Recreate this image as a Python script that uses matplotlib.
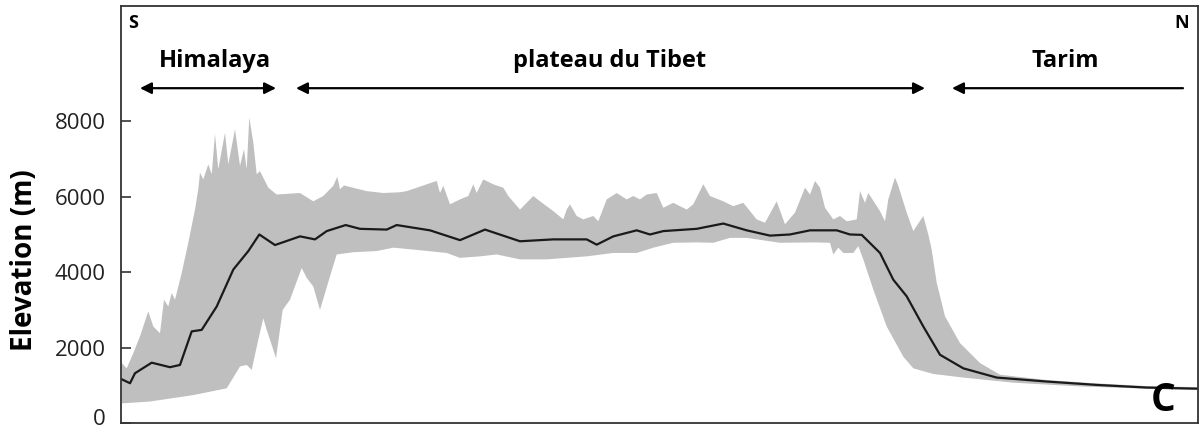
import numpy as np
import matplotlib
matplotlib.use("Agg")
import matplotlib.pyplot as plt
import matplotlib.transforms as mtransforms

plt.rcParams['font.family'] = ['Open Sans', 'DejaVu Sans']

# distance along the profile (S -> N, arbitrary units) and elevation (m)
mean_x = [0.7, 9, 14, 30.7, 49, 59, 70.7, 80.7, 95.7, 112.3, 127.3, 138.3, 154, 179,
          194, 205.7, 224.7, 239, 265.7, 275.7, 309, 339, 364, 399, 432.3, 465.7,
          475.7, 492.3, 515.7, 529, 542.3, 575.7, 602.3, 625.7, 649, 669, 689, 715.7,
          729, 740.7, 759, 772.3, 785.7, 802.3, 819, 842.3, 875.7, 925.7, 975.7, 1025.7,
          1077]
mean_y = [1160, 1055, 1320, 1600, 1480, 1540, 2430, 2470, 3090, 4070, 4560, 5000, 4720,
          4950, 4870, 5090, 5250, 5150, 5130, 5250, 5110, 4850, 5130, 4820, 4870, 4870,
          4730, 4950, 5110, 5000, 5090, 5150, 5290, 5110, 4970, 5000, 5110, 5110,
          5000, 4990, 4510, 3800, 3360, 2560, 1810, 1450, 1205, 1100, 1010, 940,
          910]

# upper envelope (max elevation)
up_x = [0.7, 5.7, 12.3, 19, 27.3, 32.3, 39, 43, 47.3, 50.7,
        54, 60.7, 67.3, 74, 77.3, 79, 82.3, 87.3, 90.7, 94,
        97.3, 104, 107.3, 114, 119, 123, 125.7, 128.3, 132.3, 135.7,
        139, 147.3, 155.7, 179, 192.3, 202.3, 212.3, 216.3, 219, 223,
        245.7, 262.3, 279, 285.7, 315.7, 319, 322.3, 329, 339, 347.3,
        352.3, 355.7, 362.3, 372.3, 382.3, 387.3, 399, 412.3, 419, 432.3,
        442.3, 445.7, 449, 455.7, 462.3, 472.3, 477.3, 485.7, 495.7, 505.7,
        512.3, 519, 525.7, 535.7, 542.3, 552.3, 565.7, 572.3, 582.3, 589,
        602.3, 612.3, 622.3, 635.7, 644, 655.7, 664, 674, 684, 689,
        694, 699, 704, 712.3, 719, 725.7, 735.7, 739, 744, 747.3,
        759, 764, 767.3, 774, 777.3, 785.7, 792.3, 802.3, 807.3, 810.7,
        815.7, 824, 839, 859, 879, 925.7, 975.7, 1025.7, 1077]
up_y = [1590, 1450, 1850, 2300, 2960, 2560, 2380, 3270, 3090, 3450,
        3270, 3980, 4780, 5660, 6200, 6640, 6460, 6860, 6600, 7660,
        6730, 7700, 6860, 7790, 6820, 7260, 6730, 8100, 7440, 6600,
        6680, 6240, 6060, 6100, 5880, 6020, 6290, 6530, 6200, 6300,
        6150, 6100, 6120, 6150, 6420, 6100, 6290, 5800, 5930, 6020,
        6330, 6100, 6460, 6330, 6240, 6020, 5660, 6020, 5880, 5620,
        5400, 5660, 5800, 5490, 5400, 5490, 5350, 5930, 6100, 5930,
        6020, 5930, 6060, 6100, 5710, 5840, 5660, 5800, 6330, 6020,
        5880, 5750, 5840, 5400, 5310, 5880, 5270, 5580, 6240, 6060,
        6420, 6240, 5710, 5400, 5490, 5350, 5400, 6150, 5840, 6100,
        5620, 5350, 5930, 6510, 6290, 5580, 5090, 5490, 5000, 4600,
        3720, 2830, 2120, 1590, 1280, 1140, 1050, 980, 950]

# lower envelope (min elevation)
low_x = [0.7, 29, 72.3, 105.7, 119, 125.7, 130.7, 137.3, 142.3, 145.7,
         149, 155, 161.7, 169, 180.7, 185.7, 192.3, 199, 209, 215.7,
         232.3, 255.7, 272.3, 292.3, 325.7, 339, 359, 375.7, 399, 425.7,
         445.7, 465.7, 492.3, 515.7, 532.3, 552.3, 575.7, 592.3, 609, 625.7,
         659, 692.3, 709, 712.3, 717.3, 722.3, 732.3, 737.3, 742.3, 752.3,
         765.7, 782.3, 792.3, 812.3, 842.3, 892.3, 959, 1025.7, 1077]
low_y = [520, 570, 740, 920, 1500, 1540, 1410, 2210, 2780, 2470,
         2210, 1720, 3000, 3270, 4110, 3850, 3620, 3000, 3890, 4470,
         4530, 4560, 4650, 4600, 4510, 4380, 4420, 4470, 4340, 4340,
         4380, 4420, 4510, 4510, 4650, 4780, 4790, 4780, 4910, 4910,
         4780, 4790, 4780, 4470, 4650, 4510, 4510, 4690, 4340, 3540,
         2560, 1760, 1450, 1300, 1205, 1070, 970, 910, 880]

yticks = [0, 2000, 4000, 6000, 8000]

fig = plt.figure(figsize=(12, 4.29), dpi=100)
ax = fig.add_axes([121 / 1200, 6 / 429, 1077 / 1200, 417 / 429])

band_x = np.concatenate([up_x, low_x[::-1]])
band_y = np.concatenate([up_y, low_y[::-1]])
ax.fill(band_x, band_y, color="#bfbfbf", linewidth=0)
ax.plot(mean_x, mean_y, color="#1a1a1a", linewidth=1.6)

ax.set_xlim(0, 1077)
ax.set_ylim(0, 11060)
ax.set_xticks([])
ax.set_yticks(yticks)
ax.set_yticklabels([str(v) for v in yticks], fontsize=16)
ax.tick_params(axis="y", direction="in", length=7, width=1.2, pad=11, colors="#333333",
               labelcolor="#222222")
# keep the "0" label inside the figure
lbl0 = ax.get_yticklabels()[0]
lbl0.set_transform(lbl0.get_transform() + mtransforms.ScaledTranslation(0, 4 / 72, fig.dpi_scale_trans))

ax.set_ylabel("Elevation (m)", fontsize=20, fontweight="bold", va="center")
ax.yaxis.set_label_coords(-0.09, 0.39)
for sp in ax.spines.values():
    sp.set_color("#333333")
    sp.set_linewidth(1.3)

# region labels
ax.text(7, 10610, "S", fontsize=13, fontweight="bold", ha="left", va="center")
ax.text(1068, 10610, "N", fontsize=13, fontweight="bold", ha="right", va="center")
ax.text(94, 9600, "Himalaya", fontsize=17, fontweight="bold", ha="center", va="center")
ax.text(489, 9600, "plateau du Tibet", fontsize=17, fontweight="bold", ha="center", va="center")
ax.text(944, 9600, "Tarim", fontsize=17, fontweight="bold", ha="center", va="center")
ax.text(1042, 610, "C", fontsize=28, fontweight="bold", ha="center", va="center")

arrow_kw = dict(arrowstyle="<|-|>", color="black", lw=1.6, mutation_scale=17,
                shrinkA=0, shrinkB=0)
ax.annotate("", xy=(19, 8880), xytext=(155, 8880), arrowprops=arrow_kw)
ax.annotate("", xy=(175, 8880), xytext=(804, 8880), arrowprops=arrow_kw)
ax.annotate("", xy=(831, 8880), xytext=(1062, 8880),
            arrowprops=dict(arrow_kw, arrowstyle="-|>"))

fig.savefig("out.png", dpi=100)
